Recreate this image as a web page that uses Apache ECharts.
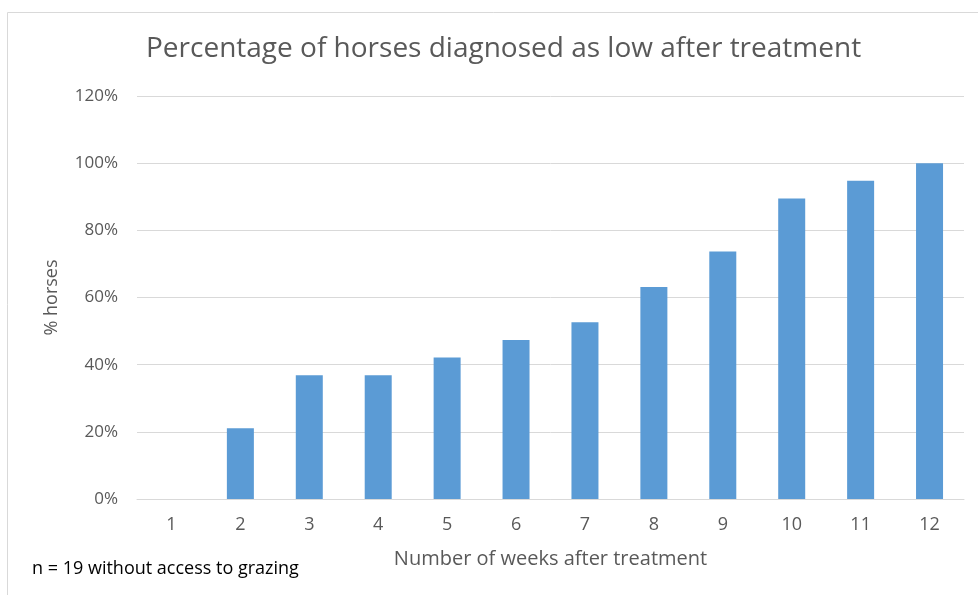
<!DOCTYPE html>
<html><head><meta charset="utf-8">
<script src="https://cdn.jsdelivr.net/npm/echarts@6/dist/echarts.min.js"></script>
<style>html,body{margin:0;padding:0;background:#fff}#c{width:978px;height:595px}</style>
</head><body><div id="c"></div>
<script>
const categories = ['1','2','3','4','5','6','7','8','9','10','11','12'];
const percentLow = [0, 21.05, 36.84, 36.84, 42.11, 47.37, 52.63, 63.16, 73.68, 89.47, 94.74, 100];
const titleText = 'Percentage of horses diagnosed as low after treatment';
const xName = 'Number of weeks after treatment';
const yName = '% horses';
const noteText = 'n = 19 without access to grazing';

const FONT = '"Open Sans", "Noto Sans", sans-serif';
const chart = echarts.init(document.getElementById('c'), null, {renderer:'canvas'});
chart.setOption({
  animation: false,
  title: {text: titleText, left: 141, top: 30,
    textStyle: {fontFamily: FONT, fontSize: 28, fontWeight: 'normal', color: '#595959'}},
  grid: {left: 137, right: 14, top: 96, bottom: 96, containLabel: false},
  xAxis: {type: 'category', data: categories,
    axisLine: {lineStyle: {color: '#d9d9d9', width: 1}}, axisTick: {show: false},
    axisLabel: {color: '#595959', fontFamily: FONT, fontSize: 18, margin: 17},
    name: xName, nameLocation: 'middle', nameGap: 50,
    nameTextStyle: {color: '#595959', fontFamily: FONT, fontSize: 20}},
  yAxis: {type: 'value', min: 0, max: 120, interval: 20,
    axisLabel: {formatter: '{value}%', color: '#595959', fontFamily: FONT, fontSize: 17, margin: 19},
    splitLine: {lineStyle: {color: '#d9d9d9', width: 1}},
    axisLine: {show: false}, axisTick: {show: false},
    name: yName, nameLocation: 'middle', nameGap: 76, nameRotate: 90,
    nameTextStyle: {color: '#595959', fontFamily: FONT, fontSize: 18}},
  series: [{type: 'bar', data: percentLow, barWidth: 27,
    itemStyle: {color: '#5b9bd5'}}],
  graphic: [
    {type: 'rect', left: 5, top: 10, shape: {width: 1000, height: 700},
      style: {fill: 'none', stroke: '#d9d9d9', lineWidth: 1}, silent: true},
    {type: 'text', left: 32, top: 560,
      style: {text: noteText, fontFamily: FONT, fontSize: 18, fill: '#000'}}
  ]
});
</script></body></html>
